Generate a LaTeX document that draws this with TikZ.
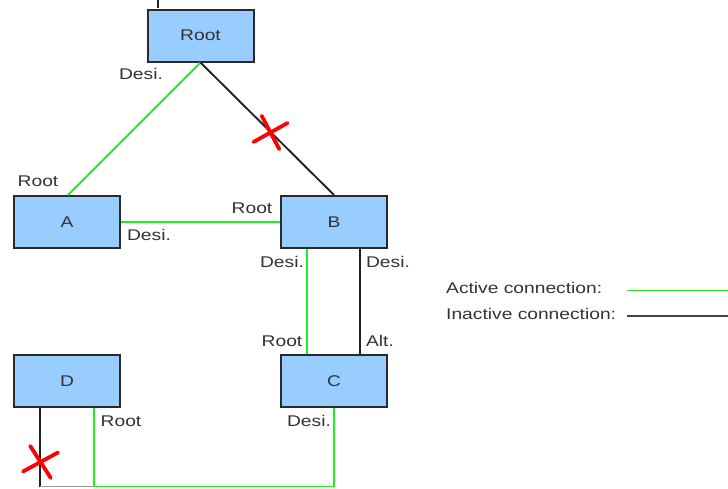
\documentclass[tikz,border=0pt]{standalone}
\usepackage{fontspec}
\setmainfont{Liberation Sans}
\definecolor{boxblue}{HTML}{99CCFF}
\definecolor{boxline}{HTML}{2A2A2A}
\definecolor{activeg}{HTML}{22EE22}
\definecolor{inactive}{HTML}{222222}
\definecolor{txt}{HTML}{333333}
\newcommand\wide[1]{\scalebox{1.24}[1]{#1}}
\tikzset{
  switchbox/.style={draw=boxline, line width=2pt, fill=boxblue,
    minimum width=106pt, minimum height=52pt, inner sep=0pt,
    font=\fontsize{15.5}{17}\selectfont, text=txt},
  portlbl/.style={inner sep=0pt, font=\fontsize{15.5}{17}\selectfont, text=txt},
  active/.style={draw=activeg, line width=1.9pt},
  passive/.style={draw=inactive, line width=1.9pt},
  blocked/.style={draw=red, line width=3.8pt, line cap=round},
}
\begin{document}
\begin{tikzpicture}[x=1pt, y=-1pt]
\useasboundingbox (0,0) rectangle (728,488);
\fill[white] (0,0) rectangle (728,488);

% switches
\node[switchbox] (root) at (200.5,35.5) {\wide{Root}};
\node[switchbox] (A) at (67,222) {\wide{A}};
\node[switchbox] (B) at (334,222) {\wide{B}};
\node[switchbox] (C) at (334,381) {\wide{C}};
\node[switchbox] (D) at (67,381) {\wide{D}};

% stray mark above the root switch
\coordinate (m1) at (158,0);
\coordinate (m2) at (158,8);
\draw[inactive, line width=1.8pt] (m1) -- (m2);

% links
\draw[active] (root.south) -- ([xshift=1pt]A.north);
\draw[passive] (root.south) -- (B.north);
\draw[active] (A.east) -- (B.west);
\draw[active] ([xshift=-27pt]B.south) -- ([xshift=-27pt]C.north);
\draw[passive] ([xshift=26pt]B.south) -- ([xshift=26pt]C.north);

% D -- C loop along the bottom
\coordinate (dl) at (40,486.5);
\coordinate (dr) at (94,486.5);
\coordinate (cb) at (334,486.5);
\draw[passive] ([xshift=-27pt]D.south) -- (dl);
\draw[draw=gray!80, line width=1.5pt] (dl) -- (dr);
\draw[active] ([xshift=27pt]D.south) -- (dr) -- (cb) -- (C.south);

% blocked ports
\node[inner sep=0pt, minimum size=0pt] (x1) at (270.5,132.5) {};
\draw[blocked] ([shift={(-8.8pt,16.7pt)}]x1.center) -- ([shift={(8.8pt,-16.7pt)}]x1.center);
\draw[blocked] ([shift={(-17pt,-9.5pt)}]x1.center) -- ([shift={(17pt,9.5pt)}]x1.center);
\node[inner sep=0pt, minimum size=0pt] (x2) at (40.5,462) {};
\draw[blocked] ([shift={(-10.3pt,16pt)}]x2.center) -- ([shift={(10.3pt,-16pt)}]x2.center);
\draw[blocked] ([shift={(-17.5pt,-9.5pt)}]x2.center) -- ([shift={(17.5pt,9.5pt)}]x2.center);

% port roles
\node[portlbl] (l1) at (141,74) {\wide{Desi.}};
\node[portlbl] (l2) at (38,181) {\wide{Root}};
\node[portlbl] (l3) at (252,208) {\wide{Root}};
\node[portlbl] (l4) at (149,235) {\wide{Desi.}};
\node[portlbl] (l5) at (282,262) {\wide{Desi.}};
\node[portlbl] (l6) at (388,262) {\wide{Desi.}};
\node[portlbl] (l7) at (282,341) {\wide{Root}};
\node[portlbl] (l8) at (380,341) {\wide{Alt.}};
\node[portlbl] (l9) at (121,421) {\wide{Root}};
\node[portlbl] (l10) at (309,421) {\wide{Desi.}};

% legend
\node[portlbl, anchor=west] (leg1) at (446,288) {\wide{Active connection:}};
\node[portlbl, anchor=west] (leg2) at (446,314) {\wide{Inactive connection:}};
\coordinate (g1) at (627,290.5);
\coordinate (g2) at (728,290.5);
\coordinate (k1) at (627,316);
\coordinate (k2) at (728,316);
\draw[active] (g1) -- (g2);
\draw[draw=inactive!85, line width=2pt] (k1) -- (k2);
\end{tikzpicture}
\end{document}
